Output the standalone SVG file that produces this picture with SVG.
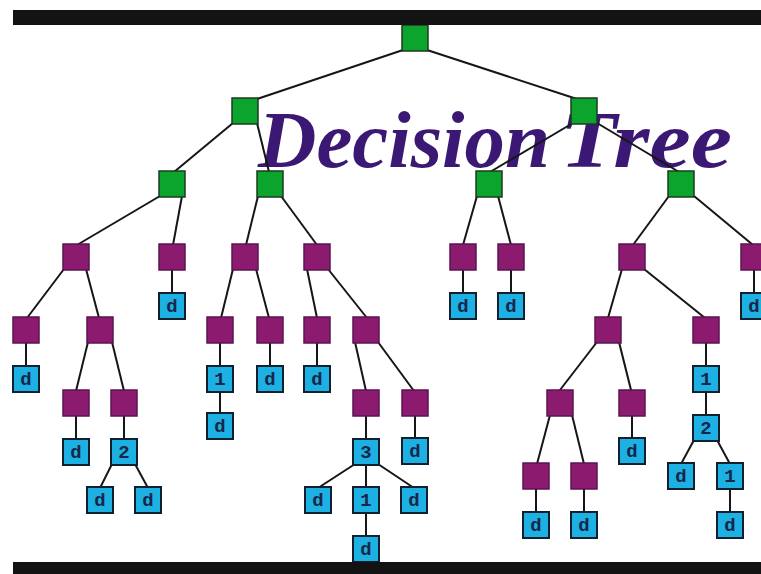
<svg xmlns="http://www.w3.org/2000/svg" width="761" height="574" viewBox="0 0 761 574">
<style>
.g{fill:#0ba42c;stroke:#1e3a20;stroke-width:1.5}
.m{fill:#8c1a6e;stroke:#5a1452;stroke-width:1.5}
.b{fill:#1cb1e2;stroke:#10202e;stroke-width:2}
.t{font-family:"Liberation Mono",monospace;font-weight:bold;font-size:19px;fill:#17264a;text-anchor:middle}
.e line{stroke:#161616;stroke-width:2}
.title{font-family:"Liberation Serif",serif;font-style:italic;font-weight:bold;font-size:80px;fill:#3b1873}
</style>
<rect width="761" height="574" fill="#ffffff"/>
<g id="title">
<text class="title" x="258" y="167" textLength="292" lengthAdjust="spacingAndGlyphs">Decision</text>
<text class="title" x="560" y="167" textLength="172" lengthAdjust="spacingAndGlyphs">Tree</text>
</g>
<g id="connectors" class="e">
<line x1="403" y1="50" x2="257" y2="99"/>
<line x1="427" y1="50" x2="577" y2="99"/>
<line x1="233" y1="123" x2="174" y2="172"/>
<line x1="257" y1="123" x2="269" y2="172"/>
<line x1="573" y1="123" x2="490" y2="172"/>
<line x1="597" y1="123" x2="679" y2="172"/>
<line x1="160" y1="196" x2="77" y2="245"/>
<line x1="182" y1="196" x2="173" y2="245"/>
<line x1="258" y1="196" x2="246" y2="245"/>
<line x1="281" y1="196" x2="317" y2="245"/>
<line x1="477" y1="196" x2="463" y2="245"/>
<line x1="498" y1="196" x2="511" y2="245"/>
<line x1="669" y1="196" x2="633" y2="245"/>
<line x1="694" y1="196" x2="753" y2="245"/>
<line x1="64" y1="269" x2="27" y2="318"/>
<line x1="86" y1="269" x2="99" y2="318"/>
<line x1="172" y1="269" x2="172" y2="294"/>
<line x1="233" y1="269" x2="221" y2="318"/>
<line x1="256" y1="269" x2="269" y2="318"/>
<line x1="307" y1="269" x2="317" y2="318"/>
<line x1="328" y1="269" x2="367" y2="318"/>
<line x1="463" y1="269" x2="463" y2="294"/>
<line x1="511" y1="269" x2="511" y2="294"/>
<line x1="622" y1="269" x2="608" y2="318"/>
<line x1="644" y1="269" x2="705" y2="318"/>
<line x1="754" y1="269" x2="754" y2="294"/>
<line x1="26" y1="342" x2="26" y2="367"/>
<line x1="88" y1="342" x2="76" y2="391"/>
<line x1="112" y1="342" x2="124" y2="391"/>
<line x1="220" y1="342" x2="220" y2="367"/>
<line x1="270" y1="342" x2="270" y2="367"/>
<line x1="317" y1="342" x2="317" y2="367"/>
<line x1="355" y1="342" x2="366" y2="391"/>
<line x1="378" y1="342" x2="414" y2="391"/>
<line x1="706" y1="342" x2="706" y2="367"/>
<line x1="597" y1="342" x2="560" y2="390"/>
<line x1="619" y1="342" x2="631" y2="390"/>
<line x1="76" y1="415" x2="76" y2="440"/>
<line x1="124" y1="415" x2="124" y2="440"/>
<line x1="220" y1="391" x2="220" y2="414"/>
<line x1="366" y1="415" x2="366" y2="440"/>
<line x1="415" y1="415" x2="415" y2="439"/>
<line x1="550" y1="415" x2="537" y2="464"/>
<line x1="572" y1="415" x2="584" y2="464"/>
<line x1="632" y1="415" x2="632" y2="439"/>
<line x1="706" y1="391" x2="706" y2="416"/>
<line x1="112" y1="464" x2="100" y2="488"/>
<line x1="135" y1="464" x2="148" y2="488"/>
<line x1="355" y1="464" x2="318" y2="488"/>
<line x1="366" y1="464" x2="366" y2="488"/>
<line x1="378" y1="464" x2="414" y2="488"/>
<line x1="694" y1="440" x2="681" y2="464"/>
<line x1="717" y1="440" x2="730" y2="464"/>
<line x1="536" y1="488" x2="536" y2="513"/>
<line x1="584" y1="488" x2="584" y2="513"/>
<line x1="730" y1="488" x2="730" y2="513"/>
<line x1="366" y1="512" x2="366" y2="537"/>
</g>
<g id="n-root"><rect class="g" x="402" y="25" width="26" height="26"/></g>
<g id="n-g1"><rect class="g" x="232" y="98" width="26" height="26"/></g>
<g id="n-g2"><rect class="g" x="571" y="98" width="26" height="26"/></g>
<g id="n-g3"><rect class="g" x="159" y="171" width="26" height="26"/></g>
<g id="n-g4"><rect class="g" x="257" y="171" width="26" height="26"/></g>
<g id="n-g5"><rect class="g" x="476" y="171" width="26" height="26"/></g>
<g id="n-g6"><rect class="g" x="668" y="171" width="26" height="26"/></g>
<g id="n-mA"><rect class="m" x="63" y="244" width="26" height="26"/></g>
<g id="n-mB"><rect class="m" x="159" y="244" width="26" height="26"/></g>
<g id="n-mC"><rect class="m" x="232" y="244" width="26" height="26"/></g>
<g id="n-mD"><rect class="m" x="304" y="244" width="26" height="26"/></g>
<g id="n-mE"><rect class="m" x="450" y="244" width="26" height="26"/></g>
<g id="n-mF"><rect class="m" x="498" y="244" width="26" height="26"/></g>
<g id="n-mG"><rect class="m" x="619" y="244" width="26" height="26"/></g>
<g id="n-mH"><rect class="m" x="741" y="244" width="26" height="26"/></g>
<g id="n-Bd"><rect class="b" x="159" y="293" width="26" height="26"/><text class="t" x="172" y="312">d</text></g>
<g id="n-Ed"><rect class="b" x="450" y="293" width="26" height="26"/><text class="t" x="463" y="312">d</text></g>
<g id="n-Fd"><rect class="b" x="498" y="293" width="26" height="26"/><text class="t" x="511" y="312">d</text></g>
<g id="n-Hd"><rect class="b" x="741" y="293" width="26" height="26"/><text class="t" x="754" y="312">d</text></g>
<g id="n-A1"><rect class="m" x="13" y="317" width="26" height="26"/></g>
<g id="n-A2"><rect class="m" x="87" y="317" width="26" height="26"/></g>
<g id="n-C1"><rect class="m" x="207" y="317" width="26" height="26"/></g>
<g id="n-C2"><rect class="m" x="257" y="317" width="26" height="26"/></g>
<g id="n-D1"><rect class="m" x="304" y="317" width="26" height="26"/></g>
<g id="n-D2"><rect class="m" x="353" y="317" width="26" height="26"/></g>
<g id="n-G1"><rect class="m" x="595" y="317" width="26" height="26"/></g>
<g id="n-G2"><rect class="m" x="693" y="317" width="26" height="26"/></g>
<g id="n-A1d"><rect class="b" x="13" y="366" width="26" height="26"/><text class="t" x="26" y="385">d</text></g>
<g id="n-C1v"><rect class="b" x="207" y="366" width="26" height="26"/><text class="t" x="220" y="385">1</text></g>
<g id="n-C2d"><rect class="b" x="257" y="366" width="26" height="26"/><text class="t" x="270" y="385">d</text></g>
<g id="n-D1d"><rect class="b" x="304" y="366" width="26" height="26"/><text class="t" x="317" y="385">d</text></g>
<g id="n-G2v"><rect class="b" x="693" y="366" width="26" height="26"/><text class="t" x="706" y="385">1</text></g>
<g id="n-A2a"><rect class="m" x="63" y="390" width="26" height="26"/></g>
<g id="n-A2b"><rect class="m" x="111" y="390" width="26" height="26"/></g>
<g id="n-D2a"><rect class="m" x="353" y="390" width="26" height="26"/></g>
<g id="n-D2b"><rect class="m" x="402" y="390" width="26" height="26"/></g>
<g id="n-G1a"><rect class="m" x="547" y="390" width="26" height="26"/></g>
<g id="n-G1b"><rect class="m" x="619" y="390" width="26" height="26"/></g>
<g id="n-C1d"><rect class="b" x="207" y="413" width="26" height="26"/><text class="t" x="220" y="432">d</text></g>
<g id="n-G2w"><rect class="b" x="693" y="415" width="26" height="26"/><text class="t" x="706" y="434">2</text></g>
<g id="n-A2ad"><rect class="b" x="63" y="439" width="26" height="26"/><text class="t" x="76" y="458">d</text></g>
<g id="n-A2bv"><rect class="b" x="111" y="439" width="26" height="26"/><text class="t" x="124" y="458">2</text></g>
<g id="n-D2av"><rect class="b" x="353" y="439" width="26" height="26"/><text class="t" x="366" y="458">3</text></g>
<g id="n-D2bd"><rect class="b" x="402" y="438" width="26" height="26"/><text class="t" x="415" y="457">d</text></g>
<g id="n-G1bd"><rect class="b" x="619" y="438" width="26" height="26"/><text class="t" x="632" y="457">d</text></g>
<g id="n-G1a1"><rect class="m" x="523" y="463" width="26" height="26"/></g>
<g id="n-G1a2"><rect class="m" x="571" y="463" width="26" height="26"/></g>
<g id="n-G2wd"><rect class="b" x="668" y="463" width="26" height="26"/><text class="t" x="681" y="482">d</text></g>
<g id="n-G2wv"><rect class="b" x="717" y="463" width="26" height="26"/><text class="t" x="730" y="482">1</text></g>
<g id="n-A2b1"><rect class="b" x="87" y="487" width="26" height="26"/><text class="t" x="100" y="506">d</text></g>
<g id="n-A2b2"><rect class="b" x="135" y="487" width="26" height="26"/><text class="t" x="148" y="506">d</text></g>
<g id="n-D3a"><rect class="b" x="305" y="487" width="26" height="26"/><text class="t" x="318" y="506">d</text></g>
<g id="n-D3b"><rect class="b" x="353" y="487" width="26" height="26"/><text class="t" x="366" y="506">1</text></g>
<g id="n-D3c"><rect class="b" x="401" y="487" width="26" height="26"/><text class="t" x="414" y="506">d</text></g>
<g id="n-G1a1d"><rect class="b" x="523" y="512" width="26" height="26"/><text class="t" x="536" y="531">d</text></g>
<g id="n-G1a2d"><rect class="b" x="571" y="512" width="26" height="26"/><text class="t" x="584" y="531">d</text></g>
<g id="n-G2wvd"><rect class="b" x="717" y="512" width="26" height="26"/><text class="t" x="730" y="531">d</text></g>
<g id="n-D3bd"><rect class="b" x="353" y="536" width="26" height="26"/><text class="t" x="366" y="555">d</text></g>
<rect x="13" y="10" width="748" height="15" fill="#131313"/>
<rect x="13" y="562" width="748" height="12" fill="#131313"/>
</svg>
